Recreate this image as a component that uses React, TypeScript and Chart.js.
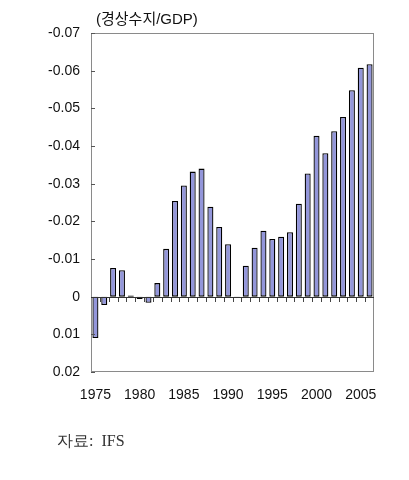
import React, { useEffect, useRef } from "react";
import { Chart, registerables } from "chart.js";

Chart.register(...registerables);

const years: string[] = [
  "1975", "1976", "1977", "1978", "1979", "1980", "1981", "1982", "1983", "1984",
  "1985", "1986", "1987", "1988", "1989", "1990", "1991", "1992", "1993", "1994",
  "1995", "1996", "1997", "1998", "1999", "2000", "2001", "2002", "2003", "2004",
  "2005", "2006",
];

const currentAccountToGdp: number[] = [
  0.011, 0.0022, -0.0076, -0.007, -0.0003, 0.0006, 0.0016, -0.0036, -0.0127, -0.0254,
  -0.0295, -0.0332, -0.034, -0.0239, -0.0185, -0.0139, 0.0003, -0.0082, -0.013, -0.0175,
  -0.0153, -0.0159, -0.0171, -0.0247, -0.0327, -0.0427, -0.0381, -0.0439, -0.0477, -0.0548,
  -0.0608, -0.0617,
];

const labeledYears: string[] = ["1975", "1980", "1985", "1990", "1995", "2000", "2005"];
const yMin = -0.07;
const yMax = 0.02;
const yStep = 0.01;
const unitTitle = "(경상수지/GDP)";
const sourceNote = "자료:  IFS";

const framePlugin = {
  id: "frameAndTicks",
  afterDatasetsDraw(chart: any) {
    const { ctx, chartArea, scales } = chart;
    const x = scales.x;
    const y = scales.y;
    ctx.save();
    ctx.strokeStyle = "#8a8a8a";
    ctx.lineWidth = 1;
    ctx.strokeRect(
      Math.round(chartArea.left) + 0.5,
      Math.round(chartArea.top) + 0.5,
      Math.round(chartArea.right - chartArea.left) - 1,
      Math.round(chartArea.bottom - chartArea.top) - 1
    );
    ctx.strokeStyle = "#555";
    ctx.beginPath();
    y.ticks.forEach((t: any) => {
      const py = Math.round(y.getPixelForValue(t.value)) + 0.5;
      ctx.moveTo(chartArea.left, py);
      ctx.lineTo(chartArea.left + 4, py);
    });
    ctx.stroke();
    const zeroY = Math.round(y.getPixelForValue(0));
    ctx.strokeStyle = "#444";
    ctx.beginPath();
    for (let i = 1; i < years.length; i++) {
      const px = Math.round((x.getPixelForValue(i - 1) + x.getPixelForValue(i)) / 2) + 0.5;
      ctx.moveTo(px, zeroY);
      ctx.lineTo(px, zeroY + 5);
    }
    ctx.stroke();
    ctx.strokeStyle = "#333";
    ctx.beginPath();
    ctx.moveTo(chartArea.left, zeroY + 0.5);
    ctx.lineTo(chartArea.right, zeroY + 0.5);
    ctx.stroke();
    ctx.fillStyle = "#111";
    ctx.font = "15px 'Liberation Sans', 'Noto Sans CJK KR', sans-serif";
    ctx.textAlign = "left";
    ctx.textBaseline = "middle";
    ctx.fillText(unitTitle, chartArea.left + 5, chartArea.top - 13);
    ctx.restore();
  },
};

export default function App() {
  const canvasRef = useRef<HTMLCanvasElement | null>(null);

  useEffect(() => {
    if (!canvasRef.current) return;
    const chart = new Chart(canvasRef.current, {
      type: "bar",
      data: {
        labels: years,
        datasets: [
          {
            data: currentAccountToGdp,
            backgroundColor: "#9396da",
            borderColor: "#000000",
            borderWidth: 1.3,
            borderSkipped: false,
            barPercentage: 0.68,
            categoryPercentage: 1,
          },
        ],
      },
      options: {
        animation: false,
        responsive: false,
        maintainAspectRatio: false,
        layout: { padding: { left: 0, top: 33, right: 35, bottom: 0 } },
        plugins: {
          legend: { display: false },
          tooltip: { enabled: false },
          title: { display: false },
        },
        scales: {
          x: {
            grid: { display: false, drawTicks: false },
            border: { display: false },
            afterFit: (s: any) => {
              s.height = 108;
            },
            ticks: {
              autoSkip: false,
              maxRotation: 0,
              padding: 15,
              color: "#111",
              font: { family: "'Liberation Sans', Arial, sans-serif", size: 14 },
              callback: (_v: any, i: number) =>
                labeledYears.includes(years[i]) ? years[i] : "",
            },
          },
          y: {
            reverse: true,
            min: yMin,
            max: yMax,
            grid: { display: false, drawTicks: false },
            border: { display: false },
            afterFit: (s: any) => {
              s.width = 91;
            },
            ticks: {
              stepSize: yStep,
              padding: 11,
              color: "#111",
              font: { family: "'Liberation Sans', Arial, sans-serif", size: 14 },
              callback: (v: any) => {
                const n = Number(v);
                if (Math.abs(n) < 1e-9) return "0";
                return n.toFixed(2);
              },
            },
          },
        },
      },
      plugins: [framePlugin],
    });
    return () => chart.destroy();
  }, []);

  return (
    <div style={{ position: "absolute", left: 0, top: 0, width: 409, height: 480, background: "#fff" }}>
      <canvas ref={canvasRef} width={409} height={480} style={{ display: "block" }} />
      <div
        style={{
          position: "absolute",
          left: 57,
          top: 431,
          fontFamily: "'Liberation Serif', 'DejaVu Serif', serif",
          fontSize: 16,
          color: "#333",
          whiteSpace: "pre",
        }}
      >
        {sourceNote}
      </div>
    </div>
  );
}
